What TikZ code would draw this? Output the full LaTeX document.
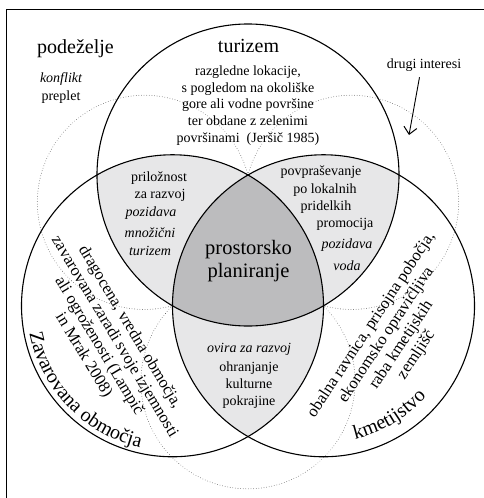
\documentclass[tikz,border=0pt]{standalone}
\usepackage{fontspec}
\setmainfont{Liberation Serif}
\usetikzlibrary{arrows.meta,decorations.text}
\definecolor{lightfill}{RGB}{231,231,232}
\definecolor{darkfill}{RGB}{188,188,190}
\begin{document}
\begin{tikzpicture}[x=1pt,y=-1pt]
\tikzset{
  circ/.style={line width=1.1pt},
  dots/.style={line width=0.8pt, dash pattern=on 0.01pt off 2.6pt, line cap=round, draw=black!65},
  body/.style={font=\fontsize{14}{16.7}\selectfont, inner sep=0pt, anchor=base},
  ital/.style={font=\fontsize{14}{16.7}\selectfont\itshape, inner sep=0pt, anchor=base},
  ttl/.style={font=\fontsize{20}{24}\selectfont, inner sep=0pt, anchor=base},
  rotblock/.style={font=\fontsize{16.5}{18}\selectfont, align=center, inner sep=0pt},
  arr/.style={line width=0.9pt, -{Straight Barb[length=7pt,width=13pt,line width=1pt]}}
}
\useasboundingbox (0,0) rectangle (484,498);
% frame
\draw[line width=1pt] (6.5,498) -- (6.5,9) -- (484,9);
% centres
\coordinate (A) at (248,175);
\coordinate (L) at (172.5,305.77);
\coordinate (R) at (323.5,305.77);
% fills
\begin{scope}
  \clip (A) circle (151);
  \fill[lightfill] (L) circle (151);
  \fill[lightfill] (R) circle (151);
\end{scope}
\begin{scope}
  \clip (L) circle (151);
  \fill[lightfill] (R) circle (151);
\end{scope}
\begin{scope}
  \clip (A) circle (151);
  \clip (L) circle (151);
  \fill[darkfill] (R) circle (151);
\end{scope}
% dotted lobes (drugi interesi)
\draw[dots] (A) arc[start angle=-14.8, end angle=-285.2, radius=107.1];
\draw[dots] (A) arc[start angle=194.8, end angle=465.2, radius=107.1];
\draw[dots] (L) arc[start angle=225.2, end angle=-45.2, radius=107.1];
% main circles
\draw[circ] (A) circle (151);
\draw[circ] (L) circle (151);
\draw[circ] (R) circle (151);
% podezelje
\node[ttl, anchor=base west] (pod) at (37,53) {podeželje};
\node[ital] (konf) at (61,82.5) {konflikt};
\node[body] (prep) at (61,100) {preplet};
% turizem
\node[ttl] (tur) at (248.5,52) {turizem};
\node[body] (t1) at (248,75) {razgledne lokacije,};
\node[body] (t2) at (248,92) {s pogledom na okoliške};
\node[body] (t3) at (248,108.5) {gore ali vodne površine};
\node[body] (t4) at (248,125) {ter obdane z zelenimi};
\node[body] (t5) at (248,142) {površinami\ \ (Jeršič 1985)};
% drugi interesi
\node[body] (di) at (424,68) {drugi interesi};
\coordinate (arrE) at (409,135);
\draw[arr] ([xshift=-4.5pt,yshift=-6pt]di.south) -- (arrE);
% left lens
\node[body] (p1) at (159,181) {priložnost};
\node[body] (p2) at (160,198) {za razvoj};
\node[ital] (p3) at (151,216.5) {pozidava};
\node[ital] (p4) at (150,237) {množični};
\node[ital] (p5) at (150,255) {turizem};
% right lens
\node[body] (q1) at (321,175) {povpraševanje};
\node[body] (q2) at (325,193) {po lokalnih};
\node[body] (q3) at (326,210) {pridelkih};
\node[body] (q4) at (345,227) {promocija};
\node[ital] (q5) at (347,248) {pozidava};
\node[ital] (q6) at (347,270) {voda};
% centre
\node[ttl, font=\fontsize{20.5}{23}\selectfont] (c1) at (248.5,254.5) {prostorsko};
\node[ttl, font=\fontsize{20.5}{23}\selectfont] (c2) at (248.5,277.5) {planiranje};
% bottom lens
\node[ital] (b1) at (249,352) {ovira za razvoj};
\node[body] (b2) at (249,371.7) {ohranjanje};
\node[body] (b3) at (249,388.5) {kulturne};
\node[body] (b4) at (249,405) {pokrajine};
% rotated blocks
\node[rotblock, rotate=-59] (lb) at (106.6,341.4) {dragocena, vredna območja,\\zavarovana zaradi svoje izjemnosti\\ali ogroženosti (Lampič\\in Mrak 2008)};
\node[rotblock, rotate=56.5] (rb) at (394,340) {obalna ravnica, prisojna pobočja,\\ekonomsko opravičljiva\\raba kmetijskih\\zemljišč};
% curved titles
\path[decorate, decoration={text along path, text align=center,
  text={|\fontsize{20}{24}\selectfont|Zavarovana območja}}]
  (L) ++(176:145.5) arc[start angle=176, end angle=96, radius=145.5];
\path[decorate, decoration={text along path, text align=center,
  text={|\fontsize{20}{24}\selectfont|kmetijstvo}}]
  (R) ++(80:137) arc[start angle=80, end angle=38, radius=137];
\end{tikzpicture}
\end{document}
